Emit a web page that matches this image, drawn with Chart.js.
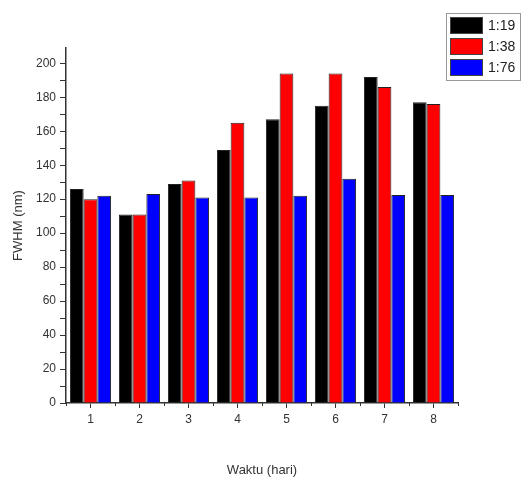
<!DOCTYPE html>
<html>
<head>
<meta charset="utf-8">
<script src="https://cdn.jsdelivr.net/npm/chart.js@4"></script>
<style>
  html, body { margin: 0; padding: 0; background: #fff; }
  #wrap { width: 521px; height: 484px; }
</style>
</head>
<body>
<div id="wrap"><canvas id="chart" width="521" height="484"></canvas></div>
<script>
// data
const days = ['1', '2', '3', '4', '5', '6', '7', '8'];
const ratio119 = [126, 111, 129, 149, 167, 175, 192, 177];
const ratio138 = [120, 111, 131, 165, 194, 194, 186, 176];
const ratio176 = [122, 123, 121, 121, 122, 132, 122.5, 122.5];
const seriesNames = ['1:19', '1:38', '1:76'];
const seriesColors = ['#000000', '#ff0000', '#0000ff'];
const yTicks = [0, 10, 20, 30, 40, 50, 60, 70, 80, 90, 100, 110, 120, 130, 140, 150, 160, 170, 180, 190, 200];

const axisColor = '#333333';
const font = { family: 'Liberation Sans, Arial, sans-serif', size: 12 };

// boxed legend in the top right corner, like the original plot
const boxLegend = {
    id: 'boxLegend',
    afterDraw(chart) {
        const c = chart.ctx;
        c.save();
        c.strokeStyle = '#999';
        c.lineWidth = 1;
        c.fillStyle = '#fff';
        c.fillRect(446.5, 13.5, 74, 67);
        c.strokeRect(446.5, 13.5, 74, 67);
        c.font = '14px Liberation Sans, Arial, sans-serif';
        c.textBaseline = 'middle';
        seriesNames.forEach((name, i) => {
            const y = 17 + i * 21;
            c.fillStyle = seriesColors[i];
            c.fillRect(450, y, 33, 17);
            c.strokeStyle = '#444';
            c.strokeRect(450.5, y + 0.5, 32, 16);
            c.fillStyle = '#222';
            c.fillText(name, 488, y + 9);
        });
        c.restore();
    }
};

// small ticks between the day groups
const groupTicks = {
    id: 'groupTicks',
    afterDraw(chart) {
        const x = chart.scales.x;
        const c = chart.ctx;
        const step = x.getPixelForValue(1) - x.getPixelForValue(0);
        c.save();
        c.strokeStyle = axisColor;
        c.lineWidth = 1;
        for (let i = 0; i <= days.length; i++) {
            const px = Math.round(x.getPixelForValue(0) - step / 2 + i * step) + 0.5;
            c.beginPath();
            c.moveTo(px, x.top);
            c.lineTo(px, x.top + 3);
            c.stroke();
        }
        c.restore();
    }
};

new Chart(document.getElementById('chart'), {
    type: 'bar',
    data: {
        labels: days,
        datasets: [ratio119, ratio138, ratio176].map((d, i) => ({
            label: seriesNames[i],
            data: d,
            backgroundColor: seriesColors[i],
            borderColor: '#222',
            borderWidth: 1,
            categoryPercentage: 0.84,
            barPercentage: 1
        }))
    },
    options: {
        responsive: false,
        animation: false,
        layout: { padding: { top: 48, right: 63, left: 0, bottom: 0 } },
        plugins: {
            legend: { display: false },
            tooltip: { enabled: false }
        },
        scales: {
            x: {
                grid: { offset: false, drawOnChartArea: false, drawTicks: true, tickLength: 5, color: axisColor },
                border: { display: true, color: axisColor, width: 1.5 },
                ticks: { color: '#333', font: font, padding: 4 },
                title: {
                    display: true,
                    text: 'Waktu (hari)',
                    color: '#333',
                    font: { family: font.family, size: 13 },
                    padding: { top: 0, bottom: 6 }
                },
                afterFit(scale) { scale.height = 81; }
            },
            y: {
                min: 0,
                max: 209,
                afterBuildTicks(scale) {
                    scale.ticks = yTicks.map(v => ({ value: v }));
                },
                grid: { drawOnChartArea: false, drawTicks: true, tickLength: 6, color: axisColor },
                border: { display: true, color: axisColor, width: 1.5 },
                ticks: {
                    color: '#333',
                    font: font,
                    padding: 4,
                    autoSkip: false,
                    callback: v => (v % 20 === 0 ? v : '')
                },
                title: {
                    display: true,
                    text: 'FWHM (nm)',
                    color: '#333',
                    font: { family: font.family, size: 13 },
                    padding: { top: 11, bottom: 0 }
                },
                afterFit(scale) { scale.width = 66; }
            }
        }
    },
    plugins: [boxLegend, groupTicks]
});
</script>
</body>
</html>
